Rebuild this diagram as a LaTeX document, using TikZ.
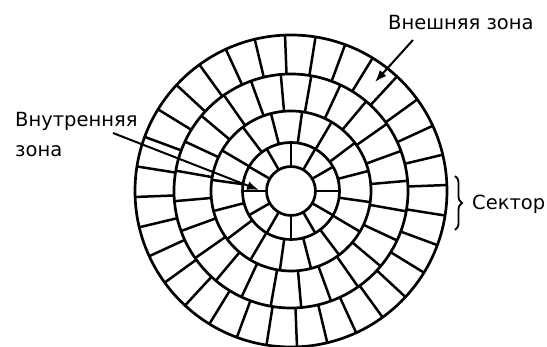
\documentclass[tikz,border=0pt]{standalone}
\usepackage{fontspec}
\setmainfont{DejaVu Sans}
\usetikzlibrary{arrows.meta,decorations.pathreplacing}

\begin{document}
\begin{tikzpicture}[x=1pt,y=1pt,
  ring/.style={line width=2.7pt},
  spoke/.style={line width=2.5pt},
  lbl/.style={font=\fontsize{19.5}{30}\selectfont,inner sep=0pt},
  pointer/.style={-{Latex[length=12pt,width=9pt]},line width=2pt}]

\useasboundingbox (0,0) rectangle (547,347);

\coordinate (O) at (291,156);

% track rings
\foreach \r in {24.5,48.5,80,117,156}
  \draw[ring] (O) circle[radius=\r];

% sector boundaries: count/inner/outer/offset
\foreach \n/\ri/\ro/\off in {12/24.5/48.5/0, 16/48.5/80/14.5, 24/80/117/5, 32/117/156/2.2}
  \foreach \k in {1,...,\n}
    \draw[spoke] ([shift={(\off+\k*360/\n:\ri)}]O) -- ([shift={(\off+\k*360/\n:\ro)}]O);

% labels
\node[lbl,anchor=base west] (outer) at (388,317) {Внешняя зона};
\node[lbl,anchor=north west,align=left] (inner) at (15,235) {Внутренняя\\зона};
\node[lbl,anchor=base west] (sector) at (472,137) {Сектор};

\coordinate (outertail) at (413,307);
\coordinate (outertip) at (375,265);
\coordinate (innertail) at (113,214);
\coordinate (innertip) at (259,157);

\draw[pointer] (outertail) -- (outertip);
\draw[pointer] (innertail) -- (innertip);

\draw[line width=1.8pt,decorate,decoration={brace,amplitude=7pt}]
  (455,171) -- (455,117);

\end{tikzpicture}
\end{document}
